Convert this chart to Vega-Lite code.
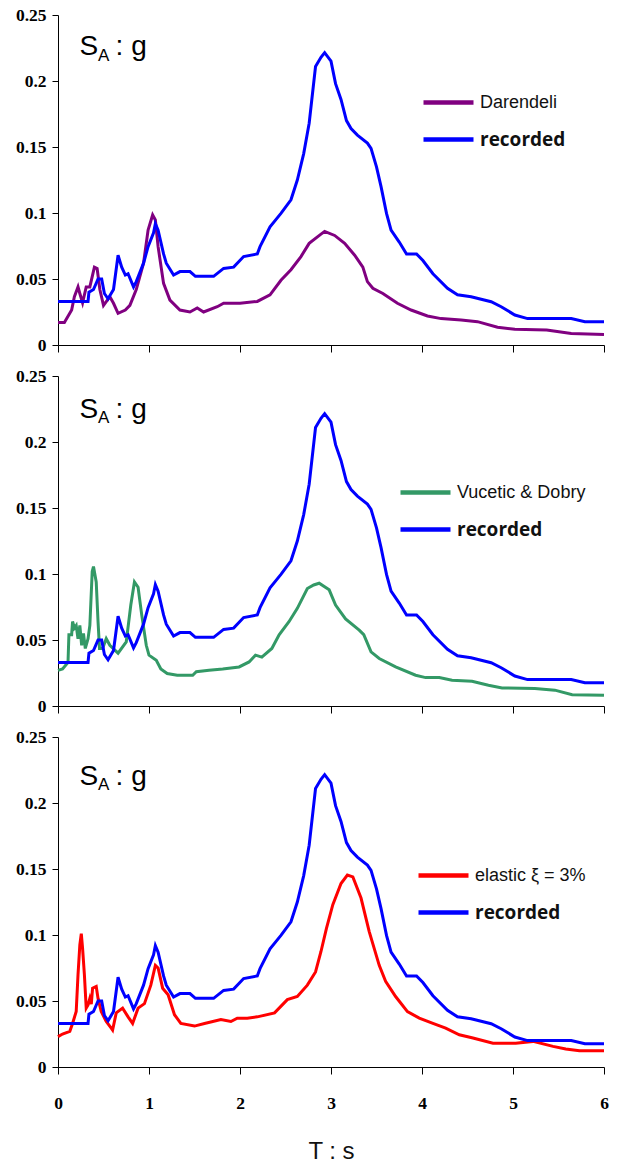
{
"$schema":"https://vega.github.io/schema/vega-lite/v6.json",
"padding":{"left":15,"top":6,"right":5,"bottom":5},
"background":"white",
"config":{"view":{"stroke":null},"axis":{"grid":false,"domainColor":"#000","tickColor":"#000","labelColor":"#000","labelFont":"Liberation Sans Narrow","labelFontSize":17.5,"labelFontWeight":"bold","labelFlush":false,"tickSize":7,"labelPadding":6}},
"datasets":{
"recorded":[{"T":0,"SA":0.033},{"T":0.33,"SA":0.033},{"T":0.34,"SA":0.04},{"T":0.39,"SA":0.042},{"T":0.44,"SA":0.05},{"T":0.48,"SA":0.05},{"T":0.51,"SA":0.039},{"T":0.55,"SA":0.035},{"T":0.61,"SA":0.042},{"T":0.66,"SA":0.068},{"T":0.7,"SA":0.059},{"T":0.74,"SA":0.053},{"T":0.77,"SA":0.054},{"T":0.83,"SA":0.044},{"T":0.86,"SA":0.048},{"T":0.94,"SA":0.062},{"T":0.99,"SA":0.0745},{"T":1.05,"SA":0.085},{"T":1.07,"SA":0.092},{"T":1.1,"SA":0.087},{"T":1.16,"SA":0.069},{"T":1.19,"SA":0.062},{"T":1.27,"SA":0.053},{"T":1.34,"SA":0.0556},{"T":1.45,"SA":0.0556},{"T":1.51,"SA":0.052},{"T":1.71,"SA":0.052},{"T":1.82,"SA":0.058},{"T":1.93,"SA":0.059},{"T":2.04,"SA":0.067},{"T":2.19,"SA":0.069},{"T":2.22,"SA":0.0745},{"T":2.33,"SA":0.0896},{"T":2.45,"SA":0.0997},{"T":2.56,"SA":0.11},{"T":2.63,"SA":0.125},{"T":2.7,"SA":0.145},{"T":2.76,"SA":0.168},{"T":2.83,"SA":0.211},{"T":2.89,"SA":0.218},{"T":2.93,"SA":0.2215},{"T":3.0,"SA":0.215},{"T":3.05,"SA":0.198},{"T":3.11,"SA":0.186},{"T":3.17,"SA":0.17},{"T":3.22,"SA":0.164},{"T":3.29,"SA":0.159},{"T":3.4,"SA":0.153},{"T":3.44,"SA":0.149},{"T":3.5,"SA":0.135},{"T":3.55,"SA":0.12},{"T":3.61,"SA":0.0997},{"T":3.66,"SA":0.087},{"T":3.75,"SA":0.078},{"T":3.83,"SA":0.069},{"T":3.94,"SA":0.069},{"T":4.01,"SA":0.064},{"T":4.12,"SA":0.054},{"T":4.28,"SA":0.043},{"T":4.39,"SA":0.038},{"T":4.54,"SA":0.0366},{"T":4.76,"SA":0.0328},{"T":4.87,"SA":0.029},{"T":5.02,"SA":0.0227},{"T":5.16,"SA":0.02},{"T":5.64,"SA":0.02},{"T":5.79,"SA":0.0177},{"T":6.0,"SA":0.0177}],
"darendeli":[{"T":0,"SA":0.017},{"T":0.07,"SA":0.017},{"T":0.15,"SA":0.0265},{"T":0.18,"SA":0.0366},{"T":0.22,"SA":0.044},{"T":0.24,"SA":0.039},{"T":0.27,"SA":0.032},{"T":0.31,"SA":0.044},{"T":0.35,"SA":0.044},{"T":0.4,"SA":0.059},{"T":0.43,"SA":0.058},{"T":0.46,"SA":0.042},{"T":0.5,"SA":0.03},{"T":0.57,"SA":0.0366},{"T":0.61,"SA":0.0316},{"T":0.66,"SA":0.024},{"T":0.74,"SA":0.0265},{"T":0.79,"SA":0.03},{"T":0.86,"SA":0.042},{"T":0.94,"SA":0.062},{"T":0.99,"SA":0.087},{"T":1.04,"SA":0.0985},{"T":1.07,"SA":0.0947},{"T":1.1,"SA":0.0745},{"T":1.16,"SA":0.0467},{"T":1.23,"SA":0.034},{"T":1.34,"SA":0.0265},{"T":1.45,"SA":0.025},{"T":1.53,"SA":0.028},{"T":1.6,"SA":0.025},{"T":1.75,"SA":0.029},{"T":1.82,"SA":0.0316},{"T":2.0,"SA":0.0316},{"T":2.19,"SA":0.033},{"T":2.33,"SA":0.038},{"T":2.45,"SA":0.049},{"T":2.56,"SA":0.057},{"T":2.67,"SA":0.067},{"T":2.76,"SA":0.077},{"T":2.89,"SA":0.084},{"T":2.93,"SA":0.086},{"T":3.04,"SA":0.083},{"T":3.15,"SA":0.077},{"T":3.26,"SA":0.068},{"T":3.35,"SA":0.059},{"T":3.4,"SA":0.048},{"T":3.46,"SA":0.043},{"T":3.57,"SA":0.039},{"T":3.73,"SA":0.0316},{"T":3.88,"SA":0.0265},{"T":4.06,"SA":0.022},{"T":4.21,"SA":0.02},{"T":4.43,"SA":0.019},{"T":4.61,"SA":0.0177},{"T":4.83,"SA":0.0134},{"T":5.02,"SA":0.0119},{"T":5.37,"SA":0.0114},{"T":5.64,"SA":0.0088},{"T":6.0,"SA":0.008}],
"vucetic":[{"T":0,"SA":0.027},{"T":0.05,"SA":0.028},{"T":0.11,"SA":0.033},{"T":0.12,"SA":0.054},{"T":0.15,"SA":0.054},{"T":0.16,"SA":0.064},{"T":0.18,"SA":0.059},{"T":0.2,"SA":0.061},{"T":0.22,"SA":0.051},{"T":0.24,"SA":0.061},{"T":0.26,"SA":0.046},{"T":0.28,"SA":0.055},{"T":0.3,"SA":0.0436},{"T":0.33,"SA":0.051},{"T":0.35,"SA":0.061},{"T":0.376,"SA":0.102},{"T":0.39,"SA":0.1056},{"T":0.42,"SA":0.094},{"T":0.44,"SA":0.064},{"T":0.456,"SA":0.0436},{"T":0.49,"SA":0.0436},{"T":0.53,"SA":0.051},{"T":0.57,"SA":0.046},{"T":0.66,"SA":0.04},{"T":0.75,"SA":0.0486},{"T":0.8,"SA":0.0765},{"T":0.84,"SA":0.094},{"T":0.88,"SA":0.09},{"T":0.92,"SA":0.069},{"T":0.97,"SA":0.046},{"T":1.0,"SA":0.0385},{"T":1.08,"SA":0.0347},{"T":1.13,"SA":0.028},{"T":1.2,"SA":0.0246},{"T":1.31,"SA":0.0233},{"T":1.48,"SA":0.0233},{"T":1.52,"SA":0.026},{"T":1.66,"SA":0.027},{"T":1.81,"SA":0.028},{"T":1.99,"SA":0.0296},{"T":2.1,"SA":0.0334},{"T":2.17,"SA":0.0385},{"T":2.24,"SA":0.037},{"T":2.35,"SA":0.0436},{"T":2.43,"SA":0.054},{"T":2.54,"SA":0.064},{"T":2.63,"SA":0.074},{"T":2.74,"SA":0.089},{"T":2.81,"SA":0.0917},{"T":2.87,"SA":0.093},{"T":2.98,"SA":0.088},{"T":3.05,"SA":0.0765},{"T":3.16,"SA":0.066},{"T":3.31,"SA":0.0575},{"T":3.36,"SA":0.054},{"T":3.44,"SA":0.041},{"T":3.53,"SA":0.036},{"T":3.71,"SA":0.0296},{"T":3.93,"SA":0.0233},{"T":4.04,"SA":0.0215},{"T":4.19,"SA":0.0215},{"T":4.33,"SA":0.0195},{"T":4.55,"SA":0.0187},{"T":4.73,"SA":0.0157},{"T":4.88,"SA":0.0137},{"T":5.24,"SA":0.0132},{"T":5.46,"SA":0.012},{"T":5.65,"SA":0.0086},{"T":6.0,"SA":0.0081}],
"elastic":[{"T":0,"SA":0.023},{"T":0.05,"SA":0.025},{"T":0.13,"SA":0.027},{"T":0.16,"SA":0.033},{"T":0.2,"SA":0.042},{"T":0.22,"SA":0.07},{"T":0.24,"SA":0.0925},{"T":0.256,"SA":0.101},{"T":0.27,"SA":0.09},{"T":0.29,"SA":0.07},{"T":0.31,"SA":0.0446},{"T":0.33,"SA":0.047},{"T":0.35,"SA":0.052},{"T":0.366,"SA":0.0476},{"T":0.38,"SA":0.0597},{"T":0.42,"SA":0.061},{"T":0.44,"SA":0.052},{"T":0.475,"SA":0.042},{"T":0.53,"SA":0.0345},{"T":0.585,"SA":0.0295},{"T":0.6,"SA":0.028},{"T":0.64,"SA":0.041},{"T":0.71,"SA":0.0446},{"T":0.77,"SA":0.038},{"T":0.82,"SA":0.033},{"T":0.88,"SA":0.0446},{"T":0.95,"SA":0.048},{"T":1.02,"SA":0.062},{"T":1.07,"SA":0.077},{"T":1.1,"SA":0.075},{"T":1.15,"SA":0.0597},{"T":1.21,"SA":0.0547},{"T":1.28,"SA":0.0396},{"T":1.35,"SA":0.033},{"T":1.5,"SA":0.031},{"T":1.61,"SA":0.033},{"T":1.79,"SA":0.036},{"T":1.9,"SA":0.0345},{"T":1.97,"SA":0.037},{"T":2.08,"SA":0.037},{"T":2.19,"SA":0.038},{"T":2.38,"SA":0.041},{"T":2.52,"SA":0.051},{"T":2.63,"SA":0.0534},{"T":2.74,"SA":0.062},{"T":2.83,"SA":0.072},{"T":2.89,"SA":0.0875},{"T":2.95,"SA":0.105},{"T":3.02,"SA":0.123},{"T":3.11,"SA":0.139},{"T":3.18,"SA":0.1454},{"T":3.24,"SA":0.144},{"T":3.33,"SA":0.128},{"T":3.42,"SA":0.1026},{"T":3.53,"SA":0.077},{"T":3.6,"SA":0.065},{"T":3.71,"SA":0.0534},{"T":3.84,"SA":0.042},{"T":3.97,"SA":0.037},{"T":4.12,"SA":0.033},{"T":4.26,"SA":0.0295},{"T":4.41,"SA":0.0244},{"T":4.56,"SA":0.022},{"T":4.78,"SA":0.018},{"T":5.03,"SA":0.018},{"T":5.22,"SA":0.0194},{"T":5.44,"SA":0.0156},{"T":5.58,"SA":0.0136},{"T":5.73,"SA":0.0123},{"T":6.0,"SA":0.0123}],
"label":[{"k":1}]
},
"bounds":"flush",
"spacing":31,
"resolve":{"scale":{"color":"independent"},"legend":{"color":"independent"}},
"vconcat":[
{"width":546,"height":330,
 "layer":[
  {"data":{"name":"darendeli"},"mark":{"type":"line","strokeWidth":3},"encoding":{
   "x":{"field":"T","type":"quantitative","scale":{"domain":[0,6],"nice":false},"axis":{"values":[0,1,2,3,4,5,6],"format":"d","labels":false,"title":null}},
   "y":{"field":"SA","type":"quantitative","scale":{"domain":[0,0.25],"nice":false},"axis":{"values":[0,0.05,0.1,0.15,0.2,0.25],"format":"~g","title":null,"tickSize":6}},
   "color":{"datum":"Darendeli","type":"nominal","scale":{"domain":["Darendeli","recorded"],"range":["#800080","#0000ff"]},
   "legend":{"orient":"none","legendX":363,"legendY":60,"title":null,"padding":0,"symbolType":"stroke","symbolSize":2500,"symbolStrokeWidth":4.5,"labelFont":"Liberation Sans","labelFontSize":18,"labelColor":"#111","labelOffset":4,"rowPadding":-10,
    "encode":{"labels":{"update":{"fontWeight":{"signal":"datum.label === 'recorded' ? 'bold' : 'normal'"},"font":{"signal":"datum.label === 'recorded' ? 'Open Sans' : 'Liberation Sans'"},"fontSize":{"signal":"datum.label === 'recorded' ? 19 : 18"}}}}}}}},
  {"data":{"name":"recorded"},"mark":{"type":"line","strokeWidth":3},"encoding":{"x":{"field":"T","type":"quantitative"},"y":{"field":"SA","type":"quantitative"},"color":{"datum":"recorded","type":"nominal"}}},
  {"data":{"name":"label"},"mark":{"type":"text","text":"S","font":"Liberation Sans","fontSize":28,"align":"left","baseline":"alphabetic","color":"#000"},"encoding":{"x":{"datum":0.237,"type":"quantitative"},"y":{"datum":0.2197,"type":"quantitative"}}},
  {"data":{"name":"label"},"mark":{"type":"text","text":"A","font":"Liberation Sans","fontSize":17,"align":"left","baseline":"alphabetic","color":"#000"},"encoding":{"x":{"datum":0.44,"type":"quantitative"},"y":{"datum":0.2154,"type":"quantitative"}}},
  {"data":{"name":"label"},"mark":{"type":"text","text":": g","font":"Liberation Sans","fontSize":28,"align":"left","baseline":"alphabetic","color":"#000"},"encoding":{"x":{"datum":0.633,"type":"quantitative"},"y":{"datum":0.2197,"type":"quantitative"}}}
 ]},
{"width":546,"height":330,
 "layer":[
  {"data":{"name":"vucetic"},"mark":{"type":"line","strokeWidth":3},"encoding":{
   "x":{"field":"T","type":"quantitative","scale":{"domain":[0,6],"nice":false},"axis":{"values":[0,1,2,3,4,5,6],"format":"d","labels":false,"title":null}},
   "y":{"field":"SA","type":"quantitative","scale":{"domain":[0,0.25],"nice":false},"axis":{"values":[0,0.05,0.1,0.15,0.2,0.25],"format":"~g","title":null,"tickSize":6}},
   "color":{"datum":"Vucetic & Dobry","type":"nominal","scale":{"domain":["Vucetic & Dobry","recorded"],"range":["#339966","#0000ff"]},
   "legend":{"orient":"none","legendX":340,"legendY":89,"title":null,"padding":0,"symbolType":"stroke","symbolSize":2500,"symbolStrokeWidth":4.5,"labelFont":"Liberation Sans","labelFontSize":18,"labelColor":"#111","labelOffset":4,"rowPadding":-10,
    "encode":{"labels":{"update":{"fontWeight":{"signal":"datum.label === 'recorded' ? 'bold' : 'normal'"},"font":{"signal":"datum.label === 'recorded' ? 'Open Sans' : 'Liberation Sans'"},"fontSize":{"signal":"datum.label === 'recorded' ? 19 : 18"}}}}}}}},
  {"data":{"name":"recorded"},"mark":{"type":"line","strokeWidth":3},"encoding":{"x":{"field":"T","type":"quantitative"},"y":{"field":"SA","type":"quantitative"},"color":{"datum":"recorded","type":"nominal"}}},
  {"data":{"name":"label"},"mark":{"type":"text","text":"S","font":"Liberation Sans","fontSize":28,"align":"left","baseline":"alphabetic","color":"#000"},"encoding":{"x":{"datum":0.237,"type":"quantitative"},"y":{"datum":0.2185,"type":"quantitative"}}},
  {"data":{"name":"label"},"mark":{"type":"text","text":"A","font":"Liberation Sans","fontSize":17,"align":"left","baseline":"alphabetic","color":"#000"},"encoding":{"x":{"datum":0.44,"type":"quantitative"},"y":{"datum":0.2142,"type":"quantitative"}}},
  {"data":{"name":"label"},"mark":{"type":"text","text":": g","font":"Liberation Sans","fontSize":28,"align":"left","baseline":"alphabetic","color":"#000"},"encoding":{"x":{"datum":0.633,"type":"quantitative"},"y":{"datum":0.2185,"type":"quantitative"}}}
 ]},
{"width":546,"height":330,
 "layer":[
  {"data":{"name":"elastic"},"mark":{"type":"line","strokeWidth":3},"encoding":{
   "x":{"field":"T","type":"quantitative","scale":{"domain":[0,6],"nice":false},"axis":{"values":[0,1,2,3,4,5,6],"format":"d","title":"T : s","labelPadding":20,"titleFont":"Liberation Sans","titleFontSize":24,"titleFontWeight":"normal","titleColor":"#111","titlePadding":28}},
   "y":{"field":"SA","type":"quantitative","scale":{"domain":[0,0.25],"nice":false},"axis":{"values":[0,0.05,0.1,0.15,0.2,0.25],"format":"~g","title":null,"tickSize":6}},
   "color":{"datum":"elastic ξ = 3%","type":"nominal","scale":{"domain":["elastic ξ = 3%","recorded"],"range":["#ff0000","#0000ff"]},
   "legend":{"orient":"none","legendX":358,"legendY":111,"title":null,"padding":0,"symbolType":"stroke","symbolSize":2500,"symbolStrokeWidth":4.5,"labelFont":"Liberation Sans","labelFontSize":18,"labelColor":"#111","labelOffset":4,"rowPadding":-10,
    "encode":{"labels":{"update":{"fontWeight":{"signal":"datum.label === 'recorded' ? 'bold' : 'normal'"},"font":{"signal":"datum.label === 'recorded' ? 'Open Sans' : 'Liberation Sans'"},"fontSize":{"signal":"datum.label === 'recorded' ? 19 : 18"}}}}}}}},
  {"data":{"name":"recorded"},"mark":{"type":"line","strokeWidth":3},"encoding":{"x":{"field":"T","type":"quantitative"},"y":{"field":"SA","type":"quantitative"},"color":{"datum":"recorded","type":"nominal"}}},
  {"data":{"name":"label"},"mark":{"type":"text","text":"S","font":"Liberation Sans","fontSize":28,"align":"left","baseline":"alphabetic","color":"#000"},"encoding":{"x":{"datum":0.237,"type":"quantitative"},"y":{"datum":0.2139,"type":"quantitative"}}},
  {"data":{"name":"label"},"mark":{"type":"text","text":"A","font":"Liberation Sans","fontSize":17,"align":"left","baseline":"alphabetic","color":"#000"},"encoding":{"x":{"datum":0.44,"type":"quantitative"},"y":{"datum":0.2096,"type":"quantitative"}}},
  {"data":{"name":"label"},"mark":{"type":"text","text":": g","font":"Liberation Sans","fontSize":28,"align":"left","baseline":"alphabetic","color":"#000"},"encoding":{"x":{"datum":0.633,"type":"quantitative"},"y":{"datum":0.2139,"type":"quantitative"}}}
 ]}
]
}
